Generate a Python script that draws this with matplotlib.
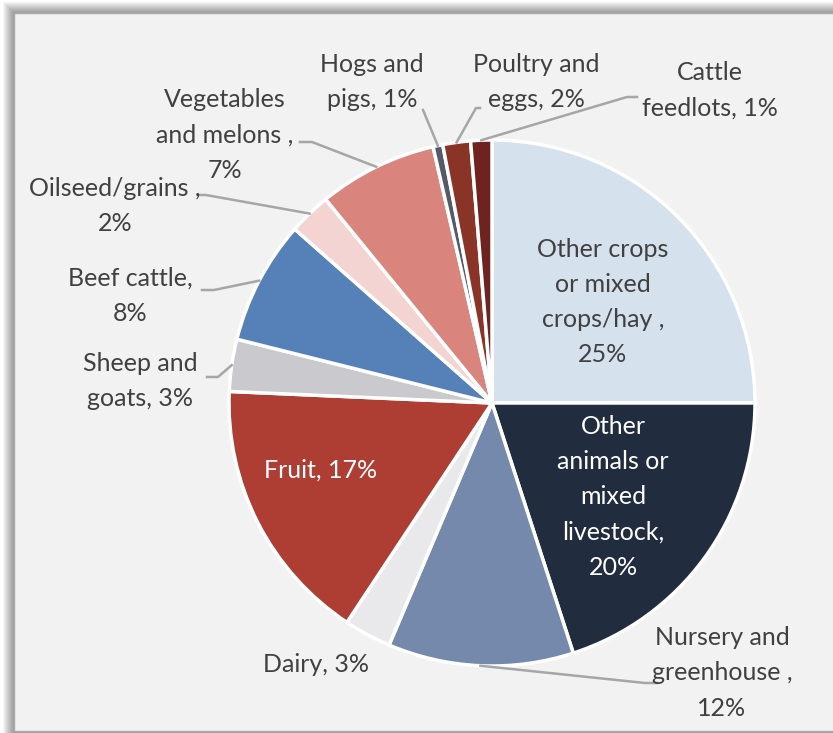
import numpy as np
import matplotlib.pyplot as plt
from matplotlib.patches import Rectangle

# Datos del grafico (participacion por tipo de granja)
names = ["Other crops or mixed crops/hay", "Other animals or mixed livestock",
         "Nursery and greenhouse", "Dairy", "Fruit", "Sheep and goats",
         "Beef cattle", "Oilseed/grains", "Vegetables and melons",
         "Hogs and pigs", "Poultry and eggs", "Cattle feedlots"]
shares = [25.0, 20.0, 11.4, 2.9, 16.4, 3.2, 7.6, 2.6, 7.3, 0.6, 1.7, 1.3]
labels = ["Other crops\nor mixed\ncrops/hay ,\n25%",
          "Other\nanimals or\nmixed\nlivestock,\n20%",
          "Nursery and\ngreenhouse ,\n12%",
          "Dairy, 3%",
          "Fruit, 17%",
          "Sheep and\ngoats, 3%",
          "Beef cattle,\n8%",
          "Oilseed/grains ,\n2%",
          "Vegetables\nand melons ,\n7%",
          "Hogs and\npigs, 1%",
          "Poultry and\neggs, 2%",
          "Cattle\nfeedlots, 1%"]
colors = ["#d6e1ee", "#222c3f", "#7489ac", "#e9e9ec", "#ae3d33", "#c9c9ce",
          "#5580b8", "#f4d3d3", "#d9857d", "#565a68", "#8a3327", "#6e2320"]

W, H = 833, 733
def Y(py):
    return H - py

# posiciones de las etiquetas (pixeles) y extremo de la linea guia
label_pos = [(603, 302), (613, 497), (722, 673), (316, 664), (321, 470),
             (140, 381), (130, 296), (115, 206), (225, 135), (372, 82),
             (536, 82), (710, 90)]
leader = [None, None, [(657, 683), (645, 683)], None, None,
          [(207, 377), (218, 377)], [(202, 290), (214, 290)],
          [(198, 195), (206, 195)], [(300, 142), (312, 142)],
          [(423, 110)], [(480, 108), (476, 108)], [(637, 97), (627, 97)]]
white_text = [False, True, False, False, True] + [False] * 7

plt.rcParams['font.family'] = ['Lato', 'DejaVu Sans']
fig = plt.figure(figsize=(W / 100, H / 100), dpi=100)
fig.patch.set_facecolor("white")
ax = fig.add_axes([0, 0, 1, 1])

# sombra y marco
for i in range(1, 12):
    ax.add_patch(Rectangle((14 - i, 0), W, Y(13 - i), facecolor="black",
                           alpha=0.04, edgecolor="none", zorder=0))
ax.add_patch(Rectangle((14, 2), W, Y(13) - 2, facecolor="#f2f2f2",
                       edgecolor="#a8a8a8", linewidth=1, zorder=1))

cx, cy, r = 492, Y(403), 263
wedges, _ = ax.pie(shares, colors=colors, startangle=90, counterclock=False,
                   center=(cx, cy), radius=r,
                   wedgeprops=dict(edgecolor="white", linewidth=2.5, zorder=2))

for w, lab, pos, ld, wt in zip(wedges, labels, label_pos, leader, white_text):
    ax.text(pos[0], Y(pos[1]), lab, ha="center", va="center",
            multialignment="center", fontsize=18, linespacing=1.64,
            color="white" if wt else "#404040", zorder=4)
    if ld is not None:
        mid = np.deg2rad((w.theta1 + w.theta2) / 2)
        xs = [p[0] for p in ld] + [cx + r * np.cos(mid)]
        ys = [Y(p[1]) for p in ld] + [cy + r * np.sin(mid)]
        ax.plot(xs, ys, color="#a6a6a6", linewidth=1.8, zorder=3)

ax.set_xlim(0, W)
ax.set_ylim(0, H)
ax.set_aspect("equal")
ax.axis("off")

plt.savefig("out.png", dpi=100)
